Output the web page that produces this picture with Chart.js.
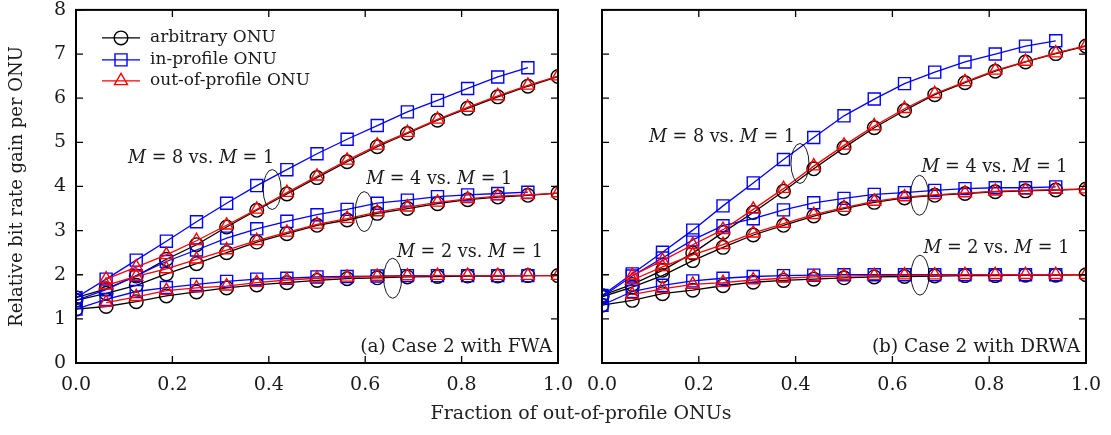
<!DOCTYPE html>
<html>
<head>
<meta charset="utf-8">
<script src="https://cdn.jsdelivr.net/npm/chart.js@4.4.1/dist/chart.umd.min.js"></script>
<style>
  body { margin: 0; background: #fff; }
  #wrap { position: relative; width: 1111px; height: 435px; overflow: hidden; }
  .box { position: absolute; top: 0; height: 435px; }
  #boxA { left: 0; width: 575px; }
  #boxB { left: 575px; width: 536px; }
  #xtitle { position: absolute; left: 281px; width: 600px; top: 401px; text-align: center;
            font: 19px "DejaVu Serif"; color: #222; }
</style>
</head>
<body>
<div id="wrap">
  <div class="box" id="boxA"><canvas id="grafA"></canvas></div>
  <div class="box" id="boxB"><canvas id="grafB"></canvas></div>
  <div id="xtitle">Fraction of out-of-profile ONUs</div>
</div>
<script>
// fraccion de ONUs fuera de perfil (x)
const fracciones = [0, 0.0625, 0.125, 0.1875, 0.25, 0.3125, 0.375, 0.4375, 0.5, 0.5625, 0.625, 0.6875, 0.75, 0.8125, 0.875, 0.9375, 1];
const xTicks = [0, 0.2, 0.4, 0.6, 0.8, 1.0];
const yTicks = [0, 1, 2, 3, 4, 5, 6, 7, 8];
const nombresSeries = ["arbitrary ONU", "in-profile ONU", "out-of-profile ONU"];

// (a) Case 2 with FWA
const fwaArb8 = [1.48, 1.68, 1.97, 2.35, 2.68, 3.08, 3.46, 3.83, 4.20, 4.56, 4.90, 5.20, 5.50, 5.77, 6.03, 6.27, 6.49];
const fwaIn8  = [1.48, 1.90, 2.33, 2.76, 3.20, 3.62, 4.02, 4.38, 4.74, 5.07, 5.38, 5.69, 5.95, 6.22, 6.48, 6.69, null];
const fwaOut8 = [null, 1.90, 2.17, 2.45, 2.77, 3.12, 3.48, 3.86, 4.23, 4.59, 4.93, 5.22, 5.52, 5.79, 6.05, 6.29, 6.50];
const fwaArb4 = [1.42, 1.58, 1.76, 2.02, 2.25, 2.50, 2.74, 2.93, 3.12, 3.24, 3.39, 3.50, 3.61, 3.70, 3.76, 3.80, 3.85];
const fwaIn4  = [1.42, 1.66, 1.98, 2.30, 2.56, 2.83, 3.04, 3.21, 3.36, 3.48, 3.62, 3.69, 3.77, 3.81, 3.84, 3.87, null];
const fwaOut4 = [null, 1.76, 1.96, 2.13, 2.35, 2.56, 2.77, 2.96, 3.14, 3.27, 3.42, 3.53, 3.64, 3.72, 3.78, 3.81, 3.85];
const fwaArb2 = [1.22, 1.28, 1.39, 1.52, 1.61, 1.70, 1.77, 1.82, 1.87, 1.91, 1.93, 1.95, 1.96, 1.97, 1.97, 1.98, 1.98];
const fwaIn2  = [1.22, 1.44, 1.62, 1.71, 1.78, 1.85, 1.90, 1.92, 1.95, 1.96, 1.97, 1.98, 1.98, 1.98, 1.98, 1.98, null];
const fwaOut2 = [null, 1.37, 1.50, 1.64, 1.70, 1.74, 1.82, 1.88, 1.92, 1.94, 1.96, 1.97, 1.98, 1.98, 1.98, 1.98, 1.98];

// (b) Case 2 with DRWA
const drwaArb8 = [1.53, 1.78, 2.10, 2.49, 2.96, 3.41, 3.89, 4.40, 4.88, 5.33, 5.72, 6.08, 6.35, 6.61, 6.82, 7.01, 7.18];
const drwaIn8  = [1.53, 2.02, 2.51, 3.01, 3.56, 4.08, 4.61, 5.11, 5.60, 5.98, 6.33, 6.59, 6.82, 7.00, 7.18, 7.30, null];
const drwaOut8 = [null, 1.98, 2.32, 2.68, 3.02, 3.48, 3.95, 4.46, 4.93, 5.37, 5.76, 6.10, 6.37, 6.63, 6.83, 7.02, 7.19];
const drwaArb4 = [1.50, 1.72, 1.98, 2.32, 2.62, 2.90, 3.12, 3.33, 3.50, 3.64, 3.74, 3.80, 3.84, 3.88, 3.90, 3.92, 3.94];
const drwaIn4  = [1.50, 1.97, 2.38, 2.79, 3.11, 3.27, 3.47, 3.63, 3.73, 3.82, 3.86, 3.91, 3.95, 3.97, 3.97, 3.99, null];
const drwaOut4 = [null, 1.88, 2.18, 2.45, 2.68, 2.94, 3.16, 3.36, 3.52, 3.66, 3.76, 3.81, 3.85, 3.89, 3.91, 3.93, 3.94];
const drwaArb2 = [1.31, 1.42, 1.57, 1.65, 1.75, 1.83, 1.87, 1.90, 1.93, 1.95, 1.96, 1.97, 1.98, 1.98, 1.99, 1.99, 2.00];
const drwaIn2  = [1.31, 1.62, 1.76, 1.86, 1.92, 1.96, 1.98, 1.99, 2.00, 2.00, 2.00, 2.00, 2.00, 2.00, 2.00, 2.00, null];
const drwaOut2 = [null, 1.55, 1.68, 1.78, 1.82, 1.88, 1.92, 1.95, 1.97, 1.98, 1.99, 1.99, 2.00, 2.00, 2.00, 2.00, 2.00];

const FUENTE = '"DejaVu Serif", serif';
const TEXTO = '#1a1a1a';
const estilos = [
  { color: '#000000', punto: 'circle', radio: 6.8, orden: 3 },
  { color: '#0000ff', punto: 'rect', radio: 8.5, orden: 2 },
  { color: '#ff0000', punto: 'triangle', radio: 7.5, orden: 1 },
];

function serie(valores, tipo) {
  const e = estilos[tipo];
  return {
    label: nombresSeries[tipo],
    data: fracciones.map((f, i) => ({ x: f, y: valores[i] })).filter(p => p.y !== null),
    borderColor: e.color,
    backgroundColor: 'rgba(0,0,0,0)',
    borderWidth: 1.3,
    pointStyle: e.punto,
    pointRadius: e.radio,
    pointBorderWidth: 1.4,
    pointBackgroundColor: 'rgba(0,0,0,0)',
    order: e.orden,
    tension: 0,
  };
}

function textoM(ctx, a, b, x, y) {
  const partes = [['M', true], [' = ' + a + ' vs. ', false], ['M', true], [' = ' + b, false]];
  let px = x;
  partes.forEach(([t, it]) => {
    ctx.font = (it ? 'italic ' : '') + '17.6px ' + FUENTE;
    ctx.fillText(t, px, y);
    px += ctx.measureText(t).width;
  });
}

const marcoPlugin = {
  id: 'marco',
  afterDraw(chart, args, opts) {
    const { ctx, chartArea: a, scales: { x, y } } = chart;
    ctx.save();
    ctx.strokeStyle = '#000';
    ctx.lineWidth = 1.3;
    ctx.beginPath();
    x.ticks.forEach(t => {
      const px = x.getPixelForValue(t.value);
      ctx.moveTo(px, a.bottom); ctx.lineTo(px, a.bottom - 7);
      ctx.moveTo(px, a.top); ctx.lineTo(px, a.top + 7);
    });
    y.ticks.forEach(t => {
      const py = y.getPixelForValue(t.value);
      ctx.moveTo(a.left, py); ctx.lineTo(a.left + 7, py);
      ctx.moveTo(a.right, py); ctx.lineTo(a.right - 7, py);
    });
    ctx.stroke();
    ctx.lineWidth = 2;
    ctx.strokeRect(a.left, a.top, a.right - a.left, a.bottom - a.top);

    // elipses y etiquetas M = n vs. M = 1
    ctx.fillStyle = TEXTO;
    ctx.textBaseline = 'alphabetic';
    ctx.lineWidth = 0.9;
    (opts.notas || []).forEach(n => {
      ctx.beginPath();
      ctx.ellipse(x.getPixelForValue(n.ex), y.getPixelForValue(n.ey), 9, 20, 0, 0, Math.PI * 2);
      ctx.stroke();
      ctx.textAlign = 'left';
      textoM(ctx, n.m, 1, x.getPixelForValue(n.tx), y.getPixelForValue(n.ty));
    });

    // leyenda
    if (opts.leyenda) {
      const filas = [a.top + 28, a.top + 50, a.top + 71];
      [0, 1, 2].forEach(i => {
        const ds = chart.data.datasets.find(d => d.label === nombresSeries[i]);
        const cy = filas[i];
        ctx.strokeStyle = ds.borderColor;
        ctx.fillStyle = 'rgba(0,0,0,0)';
        ctx.lineWidth = 1.3;
        ctx.beginPath();
        ctx.moveTo(a.left + 26, cy); ctx.lineTo(a.left + 64, cy);
        ctx.stroke();
        ctx.lineWidth = 1.4;
        Chart.helpers.drawPoint(ctx, { pointStyle: ds.pointStyle, radius: ds.pointRadius, borderWidth: 1.4, rotation: 0 }, a.left + 45, cy);
        ctx.fillStyle = TEXTO;
        ctx.font = '17px ' + FUENTE;
        ctx.textAlign = 'left';
        ctx.textBaseline = 'middle';
        ctx.fillText(nombresSeries[i], a.left + 74, cy);
      });
    }

    // rotulo del panel
    ctx.fillStyle = TEXTO;
    ctx.font = '18.5px ' + FUENTE;
    ctx.textAlign = 'right';
    ctx.textBaseline = 'alphabetic';
    ctx.fillText(opts.rotulo, a.right - 6, a.bottom - 11);
    ctx.restore();
  }
};

function opciones(izq, notas, rotulo, leyenda) {
  return {
    responsive: true,
    maintainAspectRatio: false,
    animation: false,
    devicePixelRatio: 1,
    layout: { padding: { left: 0, right: izq ? 17 : 25, top: 7, bottom: 0 } },
    plugins: {
      legend: { display: false },
      tooltip: { enabled: false },
      marco: { notas, rotulo, leyenda },
    },
    scales: {
      x: {
        type: 'linear', min: 0, max: 1,
        afterBuildTicks: s => { s.ticks = xTicks.map(v => ({ value: v })); },
        afterFit: s => { s.height = 72; s.paddingLeft = 0; s.paddingRight = 0; },
        grid: { display: false, drawTicks: false },
        border: { display: false },
        ticks: { padding: 11, color: TEXTO, font: { family: FUENTE, size: 19 }, maxRotation: 0,
                 callback: v => v.toFixed(1) },
      },
      y: {
        type: 'linear', min: 0, max: 8,
        afterBuildTicks: s => { s.ticks = yTicks.map(v => ({ value: v })); },
        afterFit: s => { s.width = izq ? 76 : 27; s.paddingTop = 0; s.paddingBottom = 0; },
        grid: { display: false, drawTicks: false },
        border: { display: false },
        ticks: { display: izq, padding: 10, color: TEXTO, font: { family: FUENTE, size: 19 } },
        title: { display: izq, text: 'Relative bit rate gain per ONU', color: TEXTO,
                 font: { family: FUENTE, size: 18 }, padding: { top: 7, bottom: 0 } },
      },
    },
  };
}

function conjuntos(g) {
  return [
    serie(g[0], 2), serie(g[1], 1), serie(g[2], 0),
    serie(g[3], 2), serie(g[4], 1), serie(g[5], 0),
    serie(g[6], 2), serie(g[7], 1), serie(g[8], 0),
  ];
}

new Chart(document.querySelector('#grafA'), {
  type: 'line',
  data: { datasets: conjuntos([fwaOut8, fwaIn8, fwaArb8, fwaOut4, fwaIn4, fwaArb4, fwaOut2, fwaIn2, fwaArb2]) },
  options: opciones(true, [
    { m: 8, tx: 0.108, ty: 4.52, ex: 0.407, ey: 3.93 },
    { m: 4, tx: 0.602, ty: 4.05, ex: 0.598, ey: 3.43 },
    { m: 2, tx: 0.666, ty: 2.40, ex: 0.657, ey: 1.92 },
  ], '(a) Case 2 with FWA', true),
  plugins: [marcoPlugin],
});

new Chart(document.querySelector('#grafB'), {
  type: 'line',
  data: { datasets: conjuntos([drwaOut8, drwaIn8, drwaArb8, drwaOut4, drwaIn4, drwaArb4, drwaOut2, drwaIn2, drwaArb2]) },
  options: opciones(false, [
    { m: 8, tx: 0.097, ty: 5.01, ex: 0.409, ey: 4.52 },
    { m: 4, tx: 0.660, ty: 4.32, ex: 0.656, ey: 3.80 },
    { m: 2, tx: 0.664, ty: 2.50, ex: 0.657, ey: 1.99 },
  ], '(b) Case 2 with DRWA', false),
  plugins: [marcoPlugin],
});
</script>
</body>
</html>
